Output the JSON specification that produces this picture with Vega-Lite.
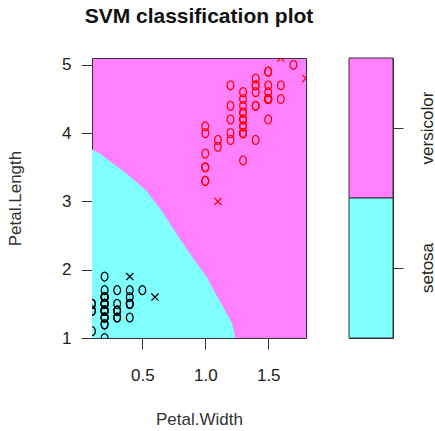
{
  "$schema": "https://vega.github.io/schema/vega-lite/v6.json",
  "padding": {"left": 5, "top": 5, "right": 0, "bottom": 5},
  "background": "white",
  "bounds": "flush",
  "spacing": 43,
  "config": {
    "font": "Liberation Sans",
    "axis": {"grid": false, "labelFont": "Liberation Sans", "titleFont": "Liberation Sans", "labelFontSize": 17, "titleFontSize": 17, "labelColor": "#222", "titleColor": "#333", "titleFontWeight": "normal", "tickColor": "#333", "domain": false, "labelOverlap": false, "labelFlush": false}
  },
  "datasets": {
    "boundary": [
      {"pw": 0.1, "pl": 3.76},
      {"pw": 0.163, "pl": 3.7},
      {"pw": 0.267, "pl": 3.55},
      {"pw": 0.346, "pl": 3.45},
      {"pw": 0.425, "pl": 3.33},
      {"pw": 0.537, "pl": 3.15},
      {"pw": 0.576, "pl": 3.05},
      {"pw": 0.64, "pl": 2.9},
      {"pw": 0.798, "pl": 2.45},
      {"pw": 0.902, "pl": 2.17},
      {"pw": 1.013, "pl": 1.89},
      {"pw": 1.06, "pl": 1.72},
      {"pw": 1.14, "pl": 1.46},
      {"pw": 1.211, "pl": 1.22},
      {"pw": 1.24, "pl": 1.0}
    ],
    "classes": [{"cls": "versicolor"}, {"cls": "setosa"}],
    "points": [
      {"species": "setosa", "pl": 1.4, "pw": 0.2, "sym": "o"},
      {"species": "setosa", "pl": 1.4, "pw": 0.2, "sym": "o"},
      {"species": "setosa", "pl": 1.3, "pw": 0.2, "sym": "o"},
      {"species": "setosa", "pl": 1.5, "pw": 0.2, "sym": "o"},
      {"species": "setosa", "pl": 1.4, "pw": 0.2, "sym": "o"},
      {"species": "setosa", "pl": 1.7, "pw": 0.4, "sym": "o"},
      {"species": "setosa", "pl": 1.4, "pw": 0.3, "sym": "o"},
      {"species": "setosa", "pl": 1.5, "pw": 0.2, "sym": "o"},
      {"species": "setosa", "pl": 1.4, "pw": 0.2, "sym": "o"},
      {"species": "setosa", "pl": 1.5, "pw": 0.1, "sym": "o"},
      {"species": "setosa", "pl": 1.5, "pw": 0.2, "sym": "o"},
      {"species": "setosa", "pl": 1.6, "pw": 0.2, "sym": "o"},
      {"species": "setosa", "pl": 1.4, "pw": 0.1, "sym": "o"},
      {"species": "setosa", "pl": 1.1, "pw": 0.1, "sym": "o"},
      {"species": "setosa", "pl": 1.2, "pw": 0.2, "sym": "o"},
      {"species": "setosa", "pl": 1.5, "pw": 0.4, "sym": "o"},
      {"species": "setosa", "pl": 1.3, "pw": 0.4, "sym": "o"},
      {"species": "setosa", "pl": 1.4, "pw": 0.3, "sym": "o"},
      {"species": "setosa", "pl": 1.7, "pw": 0.3, "sym": "o"},
      {"species": "setosa", "pl": 1.5, "pw": 0.3, "sym": "o"},
      {"species": "setosa", "pl": 1.7, "pw": 0.2, "sym": "o"},
      {"species": "setosa", "pl": 1.5, "pw": 0.4, "sym": "o"},
      {"species": "setosa", "pl": 1.0, "pw": 0.2, "sym": "o"},
      {"species": "setosa", "pl": 1.7, "pw": 0.5, "sym": "o"},
      {"species": "setosa", "pl": 1.9, "pw": 0.2, "sym": "o"},
      {"species": "setosa", "pl": 1.6, "pw": 0.2, "sym": "o"},
      {"species": "setosa", "pl": 1.6, "pw": 0.4, "sym": "o"},
      {"species": "setosa", "pl": 1.5, "pw": 0.2, "sym": "o"},
      {"species": "setosa", "pl": 1.4, "pw": 0.2, "sym": "o"},
      {"species": "setosa", "pl": 1.6, "pw": 0.2, "sym": "o"},
      {"species": "setosa", "pl": 1.6, "pw": 0.2, "sym": "o"},
      {"species": "setosa", "pl": 1.5, "pw": 0.4, "sym": "o"},
      {"species": "setosa", "pl": 1.5, "pw": 0.1, "sym": "o"},
      {"species": "setosa", "pl": 1.4, "pw": 0.2, "sym": "o"},
      {"species": "setosa", "pl": 1.5, "pw": 0.2, "sym": "o"},
      {"species": "setosa", "pl": 1.2, "pw": 0.2, "sym": "o"},
      {"species": "setosa", "pl": 1.3, "pw": 0.2, "sym": "o"},
      {"species": "setosa", "pl": 1.4, "pw": 0.1, "sym": "o"},
      {"species": "setosa", "pl": 1.3, "pw": 0.2, "sym": "o"},
      {"species": "setosa", "pl": 1.5, "pw": 0.2, "sym": "o"},
      {"species": "setosa", "pl": 1.3, "pw": 0.3, "sym": "o"},
      {"species": "setosa", "pl": 1.3, "pw": 0.3, "sym": "o"},
      {"species": "setosa", "pl": 1.3, "pw": 0.2, "sym": "o"},
      {"species": "setosa", "pl": 1.6, "pw": 0.6, "sym": "x"},
      {"species": "setosa", "pl": 1.9, "pw": 0.4, "sym": "x"},
      {"species": "setosa", "pl": 1.4, "pw": 0.3, "sym": "o"},
      {"species": "setosa", "pl": 1.6, "pw": 0.2, "sym": "o"},
      {"species": "setosa", "pl": 1.4, "pw": 0.2, "sym": "o"},
      {"species": "setosa", "pl": 1.5, "pw": 0.2, "sym": "o"},
      {"species": "setosa", "pl": 1.4, "pw": 0.2, "sym": "o"},
      {"species": "versicolor", "pl": 4.7, "pw": 1.4, "sym": "o"},
      {"species": "versicolor", "pl": 4.5, "pw": 1.5, "sym": "o"},
      {"species": "versicolor", "pl": 4.9, "pw": 1.5, "sym": "o"},
      {"species": "versicolor", "pl": 4.0, "pw": 1.3, "sym": "o"},
      {"species": "versicolor", "pl": 4.6, "pw": 1.5, "sym": "o"},
      {"species": "versicolor", "pl": 4.5, "pw": 1.3, "sym": "o"},
      {"species": "versicolor", "pl": 4.7, "pw": 1.6, "sym": "o"},
      {"species": "versicolor", "pl": 3.3, "pw": 1.0, "sym": "o"},
      {"species": "versicolor", "pl": 4.6, "pw": 1.3, "sym": "o"},
      {"species": "versicolor", "pl": 3.9, "pw": 1.4, "sym": "o"},
      {"species": "versicolor", "pl": 3.5, "pw": 1.0, "sym": "o"},
      {"species": "versicolor", "pl": 4.2, "pw": 1.5, "sym": "o"},
      {"species": "versicolor", "pl": 4.0, "pw": 1.0, "sym": "o"},
      {"species": "versicolor", "pl": 4.7, "pw": 1.4, "sym": "o"},
      {"species": "versicolor", "pl": 3.6, "pw": 1.3, "sym": "o"},
      {"species": "versicolor", "pl": 4.4, "pw": 1.4, "sym": "o"},
      {"species": "versicolor", "pl": 4.5, "pw": 1.5, "sym": "o"},
      {"species": "versicolor", "pl": 4.1, "pw": 1.0, "sym": "o"},
      {"species": "versicolor", "pl": 4.5, "pw": 1.5, "sym": "o"},
      {"species": "versicolor", "pl": 3.9, "pw": 1.1, "sym": "o"},
      {"species": "versicolor", "pl": 4.8, "pw": 1.8, "sym": "x"},
      {"species": "versicolor", "pl": 4.0, "pw": 1.3, "sym": "o"},
      {"species": "versicolor", "pl": 4.9, "pw": 1.5, "sym": "o"},
      {"species": "versicolor", "pl": 4.7, "pw": 1.2, "sym": "o"},
      {"species": "versicolor", "pl": 4.3, "pw": 1.3, "sym": "o"},
      {"species": "versicolor", "pl": 4.4, "pw": 1.4, "sym": "o"},
      {"species": "versicolor", "pl": 4.8, "pw": 1.4, "sym": "o"},
      {"species": "versicolor", "pl": 5.0, "pw": 1.7, "sym": "o"},
      {"species": "versicolor", "pl": 4.5, "pw": 1.5, "sym": "o"},
      {"species": "versicolor", "pl": 3.5, "pw": 1.0, "sym": "o"},
      {"species": "versicolor", "pl": 3.8, "pw": 1.1, "sym": "o"},
      {"species": "versicolor", "pl": 3.7, "pw": 1.0, "sym": "o"},
      {"species": "versicolor", "pl": 3.9, "pw": 1.2, "sym": "o"},
      {"species": "versicolor", "pl": 5.1, "pw": 1.6, "sym": "x"},
      {"species": "versicolor", "pl": 4.5, "pw": 1.5, "sym": "o"},
      {"species": "versicolor", "pl": 4.5, "pw": 1.6, "sym": "o"},
      {"species": "versicolor", "pl": 4.7, "pw": 1.5, "sym": "o"},
      {"species": "versicolor", "pl": 4.4, "pw": 1.3, "sym": "o"},
      {"species": "versicolor", "pl": 4.1, "pw": 1.3, "sym": "o"},
      {"species": "versicolor", "pl": 4.0, "pw": 1.3, "sym": "o"},
      {"species": "versicolor", "pl": 4.4, "pw": 1.2, "sym": "o"},
      {"species": "versicolor", "pl": 4.6, "pw": 1.4, "sym": "o"},
      {"species": "versicolor", "pl": 4.0, "pw": 1.2, "sym": "o"},
      {"species": "versicolor", "pl": 3.3, "pw": 1.0, "sym": "o"},
      {"species": "versicolor", "pl": 4.2, "pw": 1.3, "sym": "o"},
      {"species": "versicolor", "pl": 4.2, "pw": 1.2, "sym": "o"},
      {"species": "versicolor", "pl": 4.2, "pw": 1.3, "sym": "o"},
      {"species": "versicolor", "pl": 4.3, "pw": 1.3, "sym": "o"},
      {"species": "versicolor", "pl": 3.0, "pw": 1.1, "sym": "x"},
      {"species": "versicolor", "pl": 4.1, "pw": 1.3, "sym": "o"}
    ]
  },
  "hconcat": [
    {
      "width": 214,
      "height": 280,
      "view": {"fill": "#FF80FF", "stroke": "#333", "strokeWidth": 1},
      "title": {"text": "SVM classification plot", "font": "Liberation Sans", "fontSize": 21, "fontWeight": "bold", "color": "#111", "anchor": "middle", "baseline": "alphabetic", "offset": 12},
      "layer": [
        {
          "data": {"name": "boundary"},
          "mark": {"type": "area", "color": "#80FFFF", "clip": true, "opacity": 1},
          "encoding": {
            "x": {"field": "pw", "type": "quantitative", "scale": {"domain": [0.1, 1.8], "nice": false, "zero": false},
              "axis": {"title": "Petal.Width", "values": [0.5, 1, 1.5], "format": ".1f", "tickSize": 11, "labelPadding": 18, "titleY": 86, "titleBaseline": "alphabetic"}},
            "y": {"field": "pl", "type": "quantitative", "scale": {"domain": [1, 5.1], "nice": false, "zero": false},
              "axis": {"title": "Petal.Length", "values": [1, 2, 3, 4, 5], "format": "d", "tickSize": 11, "labelPadding": 10, "labelAngle": 0, "titleX": -72, "titleY": 140, "titleAngle": 270, "titleBaseline": "alphabetic", "titleAlign": "center"}},
            "y2": {"datum": 1}
          }
        },
        {
          "data": {"name": "points"},
          "mark": {"type": "point", "filled": false, "strokeWidth": 1.25, "size": 80, "opacity": 1, "clip": true},
          "encoding": {
            "x": {"field": "pw", "type": "quantitative"},
            "y": {"field": "pl", "type": "quantitative"},
            "shape": {"field": "sym", "type": "nominal", "scale": {"domain": ["o", "x"], "range": ["M0,-1A0.75,1,0,1,1,0,1A0.75,1,0,1,1,0,-1Z", "M-0.8,-0.8L0.8,0.8M-0.8,0.8L0.8,-0.8"]}, "legend": null},
            "color": {"field": "species", "type": "nominal", "scale": {"domain": ["setosa", "versicolor"], "range": ["#000000", "#FF0000"]}, "legend": null}
          }
        }
      ]
    },
    {
      "width": 44,
      "height": 280,
      "view": {"stroke": "#333", "strokeWidth": 1},
      "data": {"name": "classes"},
      "mark": {"type": "rect", "stroke": "#333", "strokeWidth": 1},
      "encoding": {
        "y": {"field": "cls", "type": "nominal", "sort": ["versicolor", "setosa"], "scale": {"paddingInner": 0, "paddingOuter": 0},
          "axis": {"orient": "right", "title": null, "tickSize": 10, "labelPadding": 29, "labelAngle": 270, "labelAlign": "center", "labelBaseline": "alphabetic"}},
        "fill": {"field": "cls", "type": "nominal", "scale": {"domain": ["setosa", "versicolor"], "range": ["#80FFFF", "#FF80FF"]}, "legend": null}
      }
    }
  ],
  "resolve": {"scale": {"x": "independent", "y": "independent", "color": "independent", "fill": "independent", "shape": "independent"}}
}
